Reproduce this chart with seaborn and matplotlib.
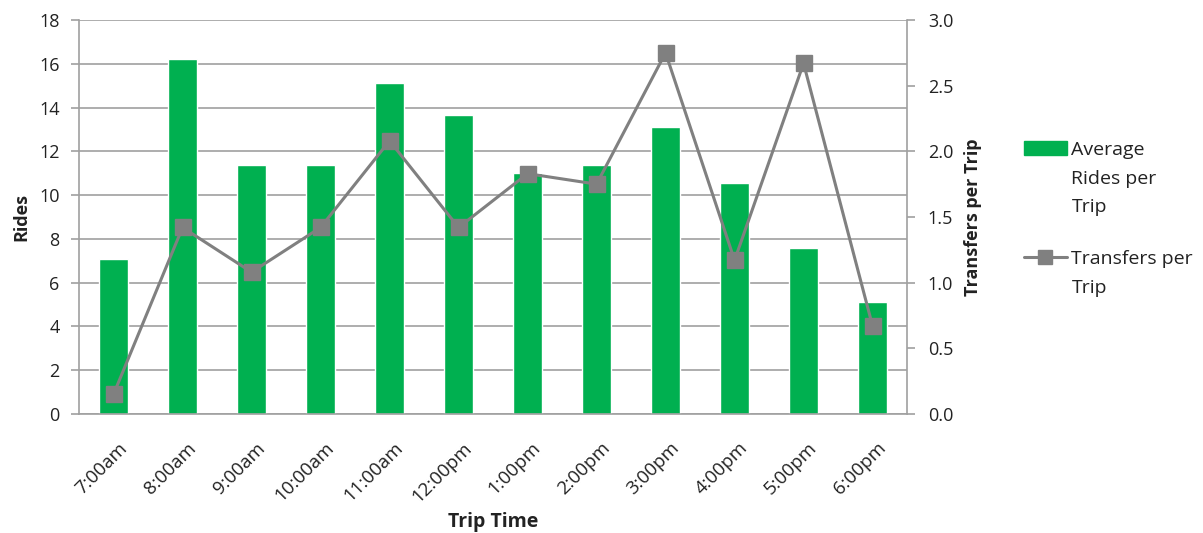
import numpy as np
import pandas as pd
import matplotlib
matplotlib.use("Agg")
import matplotlib.pyplot as plt
import matplotlib.transforms as mtransforms
from matplotlib.lines import Line2D
from matplotlib.patches import Patch
import seaborn as sns

trip_times = ["7:00am", "8:00am", "9:00am", "10:00am", "11:00am", "12:00pm",
              "1:00pm", "2:00pm", "3:00pm", "4:00pm", "5:00pm", "6:00pm"]
avg_rides = [7.1, 16.2, 11.37, 11.37, 15.1, 13.68, 11.02, 11.37, 13.1, 10.53, 7.6, 5.1]
transfers = [0.15, 1.42, 1.08, 1.42, 2.08, 1.42, 1.83, 1.75, 2.75, 1.17, 2.67, 0.67]

df = pd.DataFrame({"Trip Time": trip_times, "Rides": avg_rides, "Transfers": transfers})

sns.set_theme(style="white")
plt.rcParams["font.family"] = ["Open Sans", "DejaVu Sans"]

GREEN = "#00B050"
GRAY = "#808080"
AXIS = "#A0A0A0"
TEXT = "#222222"

fig = plt.figure(figsize=(12.03, 5.33), dpi=100)
ax = fig.add_axes([0.0657, 0.2233, 0.6883, 0.7392])

sns.barplot(data=df, x="Trip Time", y="Rides", color=GREEN, width=0.42,
            saturation=1, ax=ax, zorder=2)
ax.set_ylim(0, 18)
ax.set_yticks(np.arange(0, 19, 2))
ax.yaxis.grid(True, color=AXIS, linewidth=1.2)
ax.set_axisbelow(True)

ax2 = ax.twinx()
ax2.plot(np.arange(len(trip_times)), df["Transfers"], color=GRAY, linewidth=2.2,
         marker="s", markersize=11.5, markerfacecolor=GRAY, markeredgecolor=GRAY, zorder=3)
ax2.set_ylim(0, 3.0)
ax2.set_yticks(np.arange(0, 3.01, 0.5))
ax2.set_yticklabels([f"{v:.1f}" for v in np.arange(0, 3.01, 0.5)])
ax.set_xlim(-0.5, len(trip_times) - 0.5)

for a in (ax, ax2):
    for sp in a.spines.values():
        sp.set_color(AXIS)
        sp.set_linewidth(1.2)
    a.spines["top"].set_visible(False)
ax.spines["right"].set_visible(False)
ax2.spines["left"].set_visible(False)
ax2.spines["bottom"].set_visible(False)

# category ticks sit between bars
ax.set_xticks(np.arange(-0.5, len(trip_times), 1.0), minor=True)
ax.set_xticks(np.arange(len(trip_times)))
ax.set_xticklabels(trip_times, rotation=45, ha="right", rotation_mode="anchor")
ax.tick_params(axis="x", which="major", length=0, pad=18, labelsize=13.5, labelcolor=TEXT)
ax.tick_params(axis="x", which="minor", length=7, width=1.2, color=AXIS, direction="out")
shift = mtransforms.ScaledTranslation(3 / 72, 0, fig.dpi_scale_trans)
for lbl in ax.get_xticklabels():
    lbl.set_transform(lbl.get_transform() + shift)

ax.tick_params(axis="y", length=6, width=1.2, color=AXIS, direction="out",
               labelsize=13, labelcolor=TEXT, pad=8, left=True)
ax2.tick_params(axis="y", length=6, width=1.2, color=AXIS, direction="out",
                labelsize=13, labelcolor=TEXT, pad=9, right=True)

ax.set_xlabel("Trip Time", fontsize=14, fontweight="bold", color=TEXT)
ax.xaxis.set_label_coords(0.5, -0.274)
ax.xaxis.label.set_va("center")
ax.set_ylabel("Rides", fontsize=13, fontweight="bold", color=TEXT, labelpad=6)
ax2.set_ylabel("Transfers per Trip", fontsize=13, fontweight="bold", color=TEXT, labelpad=8)

handles = [
    Patch(facecolor=GREEN, edgecolor=GREEN),
    Line2D([0], [0], color=GRAY, linewidth=2.2, marker="s", markersize=10,
           markerfacecolor=GRAY, markeredgecolor=GRAY),
]
labels = ["Average\nRides per\nTrip", "Transfers per\nTrip"]
fs = 14
leg = fig.legend(handles, labels, loc="upper left", bbox_to_anchor=(0.851, 0.735),
                 frameon=False, fontsize=fs, handlelength=2.2, handleheight=0.72,
                 handletextpad=0.25, labelspacing=1.75, borderpad=0, borderaxespad=0)
for t in leg.get_texts():
    t.set_linespacing(1.75)
    t.set_color(TEXT)
# keep each key beside the first line of its wrapped label
for column in leg._legend_handle_box.get_children():
    for row in column.get_children():
        row.align = "top"

fig.savefig("out.png", dpi=100)
